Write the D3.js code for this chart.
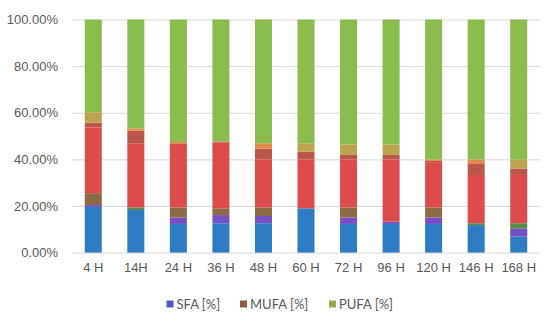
<!DOCTYPE html>
<html>
<head>
<meta charset="utf-8">
<script src="https://cdn.jsdelivr.net/npm/d3@7"></script>
<style>
  html, body { margin: 0; padding: 0; background: #fff; }
  svg { display: block; font-family: Lato, "Liberation Sans", sans-serif; }
</style>
</head>
<body>
<div id="chart"></div>
<script>
// DATA //

var categories = [ '4 H', '14H', '24 H', '36 H', '48 H', '60 H', '72 H', '96 H', '120 H', '146 H', '168 H' ];

// stacked parts, bottom to top (percent of total)
var sfaMain    = [ 19.6, 18.3, 12.3, 12.6, 12.6, 19.0, 12.3, 12.3, 12.3, 11.8, 6.9 ];
var sfaMinor   = [ 0.8, 0, 2.8, 3.5, 3.1, 0, 2.8, 1.0, 2.8, 0, 3.5 ];
var sfaTrace   = [ 0, 1.1, 0, 0, 0, 0, 0, 0, 0, 0.8, 2.2 ];
var mufaLow    = [ 5.1, 0, 4.3, 2.9, 3.7, 0, 4.3, 0, 4.3, 0, 0 ];
var mufaMain   = [ 28.2, 27.5, 27.5, 28.2, 20.6, 21.0, 20.6, 26.7, 19.1, 20.7, 20.7 ];
var mufaHigh   = [ 2.0, 5.4, 0, 0.5, 4.6, 3.3, 1.9, 1.9, 0.8, 5.0, 2.8 ];
var pufaOrange = [ 0, 1.0, 0, 0, 2.3, 0, 0, 0, 0.7, 1.7, 0 ];
var pufaKhaki  = [ 4.5, 0, 1.0, 0, 0, 3.6, 4.5, 4.5, 0, 0, 3.9 ];
var pufaMain   = [ 39.8, 46.7, 52.1, 52.3, 53.1, 53.1, 53.6, 53.6, 60.0, 60.0, 60.0 ];

var yTicks = [ 0, 20, 40, 60, 80, 100 ];
var legendLabels = [ 'SFA [%]', 'MUFA [%]', 'PUFA [%]' ];

(function() {
	'use strict';

	var keys = [ 'sfaMain', 'sfaMinor', 'sfaTrace', 'mufaLow', 'mufaMain', 'mufaHigh', 'pufaOrange', 'pufaKhaki', 'pufaMain' ],
		series = {
			sfaMain: sfaMain, sfaMinor: sfaMinor, sfaTrace: sfaTrace,
			mufaLow: mufaLow, mufaMain: mufaMain, mufaHigh: mufaHigh,
			pufaOrange: pufaOrange, pufaKhaki: pufaKhaki, pufaMain: pufaMain
		},
		colors = {
			sfaMain: '#2f7cc2', sfaMinor: '#7550c4', sfaTrace: '#5a8a48',
			mufaLow: '#8c6b45', mufaMain: '#db4c4b', mufaHigh: '#b95848',
			pufaOrange: '#e4894a', pufaKhaki: '#bda24f', pufaMain: '#8cbb4e'
		},
		legendColors = [ '#4d5bbd', '#8e5a43', '#94ae4f' ];

	var rows = categories.map( function ( c, i ) {
		var r = { cat: c };
		keys.forEach( function ( k ) { r[ k ] = series[ k ][ i ]; });
		return r;
	});

	var W = 550, H = 321,
		x0 = 72, x1 = 540, y0 = 252.6, y1 = 19.5;

	var svg = d3.select( '#chart' ).append( 'svg' )
		.attr( 'width', W )
		.attr( 'height', H );

	var x = d3.scaleBand()
		.domain( categories )
		.range( [ x0, x1 ] )
		.paddingInner( 0.6 )
		.paddingOuter( 0.3 );

	var y = d3.scaleLinear()
		.domain( [ 0, 100 ] )
		.range( [ y0, y1 ] );

	// gridlines and y labels
	var yAxis = svg.append( 'g' )
		.attr( 'transform', 'translate(' + x0 + ',0)' )
		.call( d3.axisLeft( y )
			.tickValues( yTicks )
			.tickSize( -( x1 - x0 ) )
			.tickPadding( 14 )
			.tickFormat( function ( d ) { return d.toFixed( 2 ) + '%'; }) );
	yAxis.select( '.domain' ).remove();
	yAxis.selectAll( 'line' ).attr( 'stroke', '#d9d9d9' );
	yAxis.selectAll( 'text' )
		.attr( 'fill', '#595959' )
		.style( 'font-size', '13px' );

	// bars
	var stacked = d3.stack().keys( keys )( rows );

	svg.append( 'g' )
		.selectAll( 'g' )
		.data( stacked )
		.join( 'g' )
		.attr( 'fill', function ( d ) { return colors[ d.key ]; })
		.selectAll( 'rect' )
		.data( function ( d ) { return d; })
		.join( 'rect' )
		.attr( 'x', function ( d ) { return x( d.data.cat ); })
		.attr( 'y', function ( d ) { return y( d[ 1 ] ); })
		.attr( 'width', x.bandwidth() )
		.attr( 'height', function ( d ) { return y( d[ 0 ] ) - y( d[ 1 ] ); });

	// x labels
	var xAxis = svg.append( 'g' )
		.attr( 'transform', 'translate(0,' + y0 + ')' )
		.call( d3.axisBottom( x ).tickSize( 0 ).tickPadding( 10 ) );
	xAxis.select( '.domain' ).remove();
	xAxis.selectAll( 'text' )
		.attr( 'fill', '#595959' )
		.style( 'font-size', '13px' );

	// legend
	var legendX = [ 166.5, 240, 329 ];
	var legend = svg.append( 'g' )
		.selectAll( 'g' )
		.data( legendLabels )
		.join( 'g' )
		.attr( 'transform', function ( d, i ) { return 'translate(' + legendX[ i ] + ',304)'; });

	legend.append( 'rect' )
		.attr( 'x', 0 )
		.attr( 'y', -3.5 )
		.attr( 'width', 7 )
		.attr( 'height', 7 )
		.attr( 'fill', function ( d, i ) { return legendColors[ i ]; });

	legend.append( 'text' )
		.attr( 'x', 10 )
		.attr( 'dy', '0.35em' )
		.attr( 'fill', '#595959' )
		.style( 'font-size', '13px' )
		.text( function ( d ) { return d; });
})();
</script>
</body>
</html>
